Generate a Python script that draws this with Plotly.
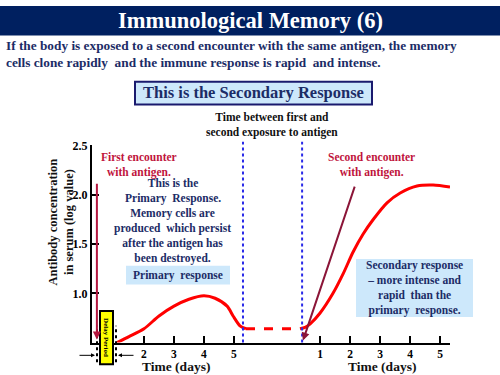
import plotly.graph_objects as go

# ---------------- data ----------------
primary_days = [1.1, 1.5, 2.0, 2.5, 3.0, 3.5, 4.0, 4.37, 4.77, 4.97, 5.2, 5.4]
primary_conc = [0.5, 0.56, 0.64, 0.77, 0.87, 0.94, 0.975, 0.95, 0.87, 0.77, 0.67, 0.64]

secondary_days = [0.33, 0.5, 0.67, 1.0, 1.43, 1.77, 2.1, 2.43, 2.77, 3.23, 3.67, 4.23, 4.77, 5.33]
secondary_conc = [0.64, 0.655, 0.69, 0.8, 1.0, 1.2, 1.42, 1.6, 1.75, 1.92, 2.02, 2.09, 2.10, 2.08]

SECONDARY_OFFSET = 6.87          # where secondary day 0 sits on the shared time axis
plateau_level = 0.64

primary_ticks = [2, 3, 4, 5]
secondary_ticks = [1, 2, 3, 4, 5]
y_ticks = [1.0, 1.5, 2.0, 2.5]
y_tick_labels = ["1.0", "1.5", "2.0", "2.5"]

first_encounter_day = 0.43
second_encounter_day = 0.43      # secondary days
second_arrow_tail = (2.17, 2.1)  # secondary days, conc
first_arrow_top = 2.13
gap_lines = [5.3, SECONDARY_OFFSET + 0.4]

# ---------------- helpers ----------------
W, H = 500, 375
FONT = "Liberation Serif"
NAVY = "#1c2c66"
CRIMSON = "#c0143c"
LIGHTBLUE = "#cde8fb"


def px(x):
    return x / W


def py(y):
    return 1 - y / H


fig = go.Figure()

sec_x = [d + SECONDARY_OFFSET for d in secondary_days]

fig.add_trace(go.Scatter(x=primary_days, y=primary_conc, mode="lines",
                         line=dict(color="#ff0000", width=3, shape="spline", smoothing=0.8),
                         hoverinfo="skip"))
fig.add_trace(go.Scatter(x=[primary_days[-1], sec_x[0]], y=[plateau_level, plateau_level],
                         mode="lines", line=dict(color="#ff0000", width=3, dash="dash"),
                         hoverinfo="skip"))
fig.add_trace(go.Scatter(x=sec_x, y=secondary_conc, mode="lines",
                         line=dict(color="#ff0000", width=3, shape="spline", smoothing=0.8),
                         hoverinfo="skip"))

shapes = []
annotations = []


def label(x, y, text, size, color, xanchor="center", angle=0, align="center"):
    annotations.append(dict(xref="paper", yref="paper", x=px(x), y=py(y), showarrow=False,
                            xanchor=xanchor, yanchor="middle", textangle=angle, align=align,
                            text=text, font=dict(family=FONT, size=size, color=color)))


# title band
shapes.append(dict(type="rect", xref="paper", yref="paper", x0=0, x1=1, y0=py(30), y1=1,
                   fillcolor="#002060", line=dict(width=0), layer="below"))
label(250, 14.5, "<b>Immunological Memory (6)</b>", 22.5, "white")

# subtitle
label(4, 49, "<b>If the body is exposed to a second encounter with the same antigen, the memory"
             "<br>cells clone rapidly  and the immune response is rapid  and intense.</b>",
      13.3, NAVY, xanchor="left", align="left")

# secondary response box
shapes.append(dict(type="rect", xref="paper", yref="paper", x0=px(135), x1=px(372),
                   y0=py(100), y1=py(77), fillcolor=LIGHTBLUE, line=dict(color="#1a1a6e", width=2)))
label(253, 88, "<b>This is the Secondary Response</b>", 16.5, NAVY)


def block(lines, x, yc, size, color):
    label(x, yc, "<b>" + "<br>".join(lines) + "</b>", size, color)


block(["Time between first and", "second exposure to antigen"], 272, 121, 11.5, "#111111")
block(["First encounter", "with antigen."], 139, 162, 11.5, CRIMSON)
block(["This is the", "Primary  Response."], 173, 188, 11.5, NAVY)
block(["Memory cells are", "produced  which persist", "after the antigen has",
       "been destroyed."], 172, 234, 11.5, NAVY)
block(["Second encounter", "with antigen."], 371, 162, 11.5, CRIMSON)

# primary response box
shapes.append(dict(type="rect", xref="paper", yref="paper", x0=px(126), x1=px(230),
                   y0=py(283), y1=py(264), fillcolor=LIGHTBLUE, line=dict(width=0), layer="below"))
block(["Primary  response"], 178, 273.5, 11.5, NAVY)

# secondary response box
shapes.append(dict(type="rect", xref="paper", yref="paper", x0=px(356), x1=px(473),
                   y0=py(316), y1=py(257), fillcolor=LIGHTBLUE, line=dict(width=0), layer="below"))
block(["Secondary response", "– more intense and", "rapid  than the", "primary  response."],
      414, 286.5, 11.5, NAVY)

# axis titles
label(61, 220, "<b>Antibody concentration<br>in serum (log value)</b>", 12.5, "#111111", angle=-90)
for cx in (176, 382):
    label(cx, 366, "<b>Time (days)</b>", 13.5, "#111111")

# blue dotted separators
for gx in gap_lines:
    shapes.append(dict(type="line", xref="x", yref="paper", x0=gx, x1=gx, y0=py(342), y1=py(138),
                       line=dict(color="#2a2ae8", width=2, dash="dot")))

# encounter arrows
annotations.append(dict(xref="x", yref="y", axref="x", ayref="y", x=first_encounter_day, y=0.53,
                        ax=first_encounter_day, ay=first_arrow_top, text="", showarrow=True,
                        arrowhead=2, arrowsize=0.8, arrowwidth=2, arrowcolor="#b3163e"))
annotations.append(dict(xref="x", yref="y", axref="x", ayref="y",
                        x=second_encounter_day + SECONDARY_OFFSET, y=0.52,
                        ax=second_arrow_tail[0] + SECONDARY_OFFSET, ay=second_arrow_tail[1],
                        text="", showarrow=True, arrowhead=2, arrowsize=0.8, arrowwidth=2,
                        arrowcolor="#8b1538"))

# delay period marker
for dx in (97, 116):
    shapes.append(dict(type="line", xref="paper", yref="paper", x0=px(dx), x1=px(dx),
                       y0=py(362), y1=py(325), line=dict(color="black", width=2, dash="dot")))
shapes.append(dict(type="rect", xref="paper", yref="paper", x0=px(100), x1=px(113),
                   y0=py(364), y1=py(310), fillcolor="#ffff00", line=dict(color="black", width=2)))
label(106.5, 337, "<b>Delay Period</b>", 7, "black", angle=90)
annotations.append(dict(xref="paper", yref="paper", x=px(95), y=py(355), ax=-17, ay=0,
                        text="", showarrow=True, arrowhead=2, arrowsize=0.8, arrowwidth=1,
                        arrowcolor="black"))
annotations.append(dict(xref="paper", yref="paper", x=px(118), y=py(355), ax=17, ay=0,
                        text="", showarrow=True, arrowhead=2, arrowsize=0.8, arrowwidth=1,
                        arrowcolor="black"))

x_tickvals = primary_ticks + [t + SECONDARY_OFFSET for t in secondary_ticks]
x_ticktext = [str(t) for t in primary_ticks] + [str(t) for t in secondary_ticks]

fig.update_layout(
    width=W, height=H, margin=dict(l=0, r=0, t=0, b=0),
    paper_bgcolor="white", plot_bgcolor="white", showlegend=False,
    xaxis=dict(domain=[px(92), px(450)], range=[0.267, 12.2], showgrid=False, zeroline=False,
               showline=True, linecolor="black", linewidth=2, ticks="inside", ticklen=7,
               tickwidth=2, tickcolor="black", tickvals=x_tickvals, ticktext=x_ticktext,
               tickfont=dict(family=FONT, size=11.5, color="black", weight="bold")),
    yaxis=dict(domain=[py(342), py(141)], range=[0.5, 2.51], showgrid=False, zeroline=False,
               showline=True, linecolor="black", linewidth=2, ticks="inside", ticklen=7,
               tickwidth=2, tickcolor="black", tickvals=y_ticks, ticktext=y_tick_labels,
               tickfont=dict(family=FONT, size=12, color="black", weight="bold")),
    shapes=shapes, annotations=annotations,
)

fig.write_html("out.html", config={"displayModeBar": False},
               post_script="document.body.style.margin='0';document.body.style.padding='0';")
